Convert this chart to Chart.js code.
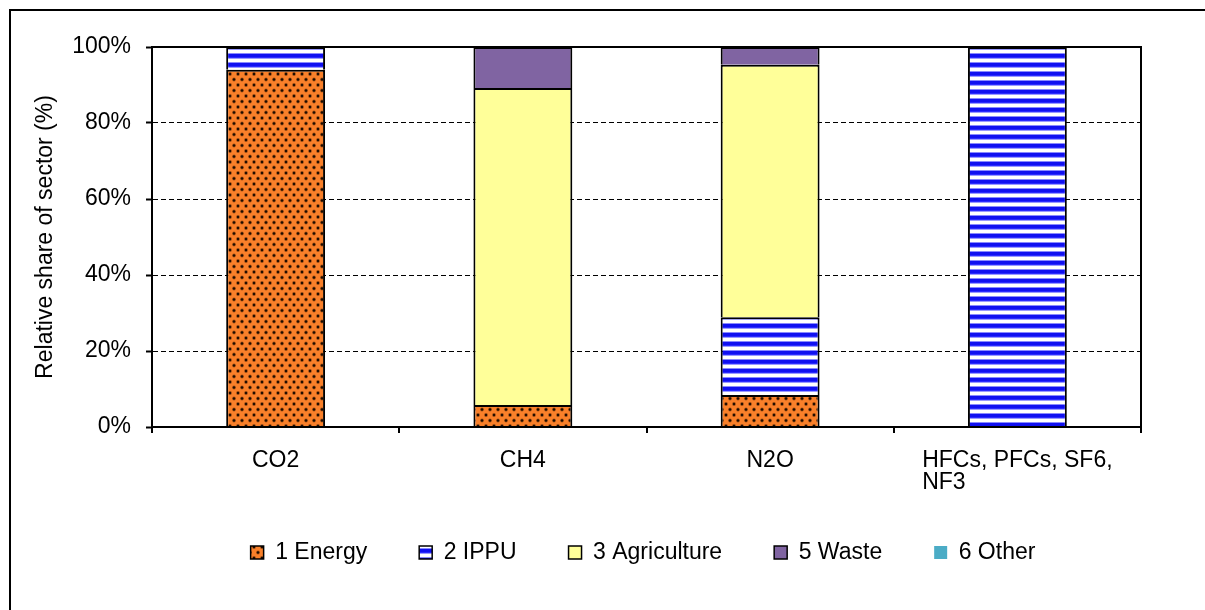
<!DOCTYPE html>
<html><head><meta charset="utf-8">
<script src="https://cdn.jsdelivr.net/npm/chart.js@4"></script>
<style>html,body{margin:0;padding:0;background:#fff;}#wrap{position:relative;width:1205px;height:610px;}</style>
</head><body><div id="wrap"><canvas id="c" width="1205" height="610"></canvas></div>
<script>
const categories = ['CO2', 'CH4', 'N2O', ['HFCs, PFCs, SF6,', 'NF3']];
const sectorNames = ['1 Energy', '2 IPPU', '3 Agriculture', '5 Waste', '6 Other'];
const energy = [94.0, 5.8, 8.4, 0];
const ippu = [6.0, 0, 20.5, 100];
const agriculture = [0, 83.4, 66.4, 0];
const waste = [0, 10.8, 4.7, 0];
const other = [0, 0, 0, 0];
const yTickStep = 20;
const yMax = 100;

const FONT = "'Liberation Sans', Arial, sans-serif";
Chart.defaults.font.family = FONT;
Chart.defaults.color = '#000';

function energyPattern() {
  const t = document.createElement('canvas'); t.width = 8; t.height = 11;
  const g = t.getContext('2d');
  g.fillStyle = '#F9802A'; g.fillRect(0, 0, 8, 11);
  [[2, 2.5], [6, 8]].forEach(([x, y]) => {
    g.fillStyle = 'rgba(60,25,0,0.45)'; g.beginPath(); g.arc(x, y, 1.9, 0, Math.PI * 2); g.fill();
    g.fillStyle = '#1e0c00'; g.beginPath(); g.arc(x, y, 1.2, 0, Math.PI * 2); g.fill();
  });
  return g.createPattern(t, 'repeat');
}
function ippuPattern() {
  const t = document.createElement('canvas'); t.width = 8; t.height = 9;
  const g = t.getContext('2d');
  const rows = ['#1010F0', '#1010F0', '#1010F0', '#2a2aff', '#9a9aff', '#ffffff', '#ffffff', '#ffffff', '#8888ff'];
  rows.forEach((c, i) => { g.fillStyle = c; g.fillRect(0, i, 8, 1); });
  return g.createPattern(t, 'repeat');
}

const ctx = document.getElementById('c').getContext('2d');
const fills = [energyPattern(), ippuPattern(), '#FFFF99', '#8064A2', '#4BACC6'];
const series = [energy, ippu, agriculture, waste, other];

const framePlugin = {
  id: 'frame',
  beforeDraw(chart) {
    const c = chart.ctx; c.save();
    c.fillStyle = '#fff'; c.fillRect(0, 0, chart.width, chart.height);
    c.strokeStyle = '#000'; c.lineWidth = 2;
    c.strokeRect(10, 10, chart.width + 40, chart.height + 40);
    c.restore();
    // left-align the lines of multi-line x labels (as in the reference)
    const xs = chart.scales.x;
    const items = xs.getLabelItems();
    items.forEach((it) => {
      if (Array.isArray(it.label) && !it._leftAligned) {
        c.save();
        c.font = it.font.string;
        const w = Math.max(...it.label.map((l) => c.measureText(l).width));
        c.restore();
        it.options.textAlign = 'left';
        it.options.translation[0] -= w / 2;
        it._leftAligned = true;
      }
    });
  },
  afterDatasetsDraw(chart) {
    const a = chart.chartArea, c = chart.ctx; c.save();
    c.strokeStyle = '#000'; c.lineWidth = 2;
    c.strokeRect(a.left, a.top, a.right - a.left, a.bottom - a.top);
    c.restore();
  }
};
const legendShift = {
  id: 'legendShift',
  afterLayout(chart) {
    const lg = chart.legend;
    if (!lg || !lg.lineWidths) return;
    const pad = lg.options.labels.padding;
    const span = lg.lineWidths[0] - pad;
    const start = (lg.left + pad + lg.right - lg.lineWidths[0]) / 2;
    const d = (643 - span / 2) - start;
    lg.left += d; lg.right += d;
  }
};

new Chart(ctx, {
  type: 'bar',
  data: {
    labels: categories,
    datasets: sectorNames.map((name, i) => ({
      label: name,
      data: series[i].map((v) => (v === 0 ? null : v)),
      backgroundColor: fills[i],
      borderColor: '#000',
      borderWidth: i === 4 ? 0 : { top: 2, left: 2, right: 2, bottom: 0 },
      borderSkipped: false,
      barPercentage: 0.4,
      categoryPercentage: 1.0
    }))
  },
  options: {
    responsive: false,
    animation: false,
    layout: { padding: { left: 28, right: 64, top: 47, bottom: 36 } },
    plugins: {
      legend: {
        position: 'bottom',
        labels: { boxWidth: 13, boxHeight: 13, padding: 52, color: '#000', font: { size: 23, family: FONT } }
      },
      tooltip: { enabled: false }
    },
    scales: {
      x: {
        stacked: true,
        grid: { display: true, drawOnChartArea: false, drawTicks: true, tickLength: 6, color: '#000', tickColor: '#000', lineWidth: 2, offset: true },
        border: { color: '#000', width: 2 },
        ticks: { color: '#000', font: { size: 23, family: FONT, lineHeight: '22px' }, padding: 17, maxRotation: 0, autoSkip: false },
        afterFit: (s) => { s.height = s.chart.height - 36 - 427 - s.chart.legend.height; }
      },
      y: {
        stacked: true, min: 0, max: yMax,
        ticks: { stepSize: yTickStep, callback: (v) => v + '%', color: '#000', font: { size: 23, family: FONT }, padding: 15 },
        grid: {
          color: (c) => (c.tick && (c.tick.value === 0 || c.tick.value === yMax)) ? 'rgba(0,0,0,0)' : '#000',
          tickColor: '#000', tickLength: 6, lineWidth: 1, tickWidth: 2
        },
        border: { color: '#000', width: 2, dash: [5, 3] },
        title: { display: true, text: 'Relative share of sector (%)', color: '#000', font: { size: 23, family: FONT }, padding: { top: 4, bottom: 4 } },
        afterFit: (s) => { s.width = 124; }
      }
    }
  },
  plugins: [framePlugin, legendShift]
});
</script></body></html>
